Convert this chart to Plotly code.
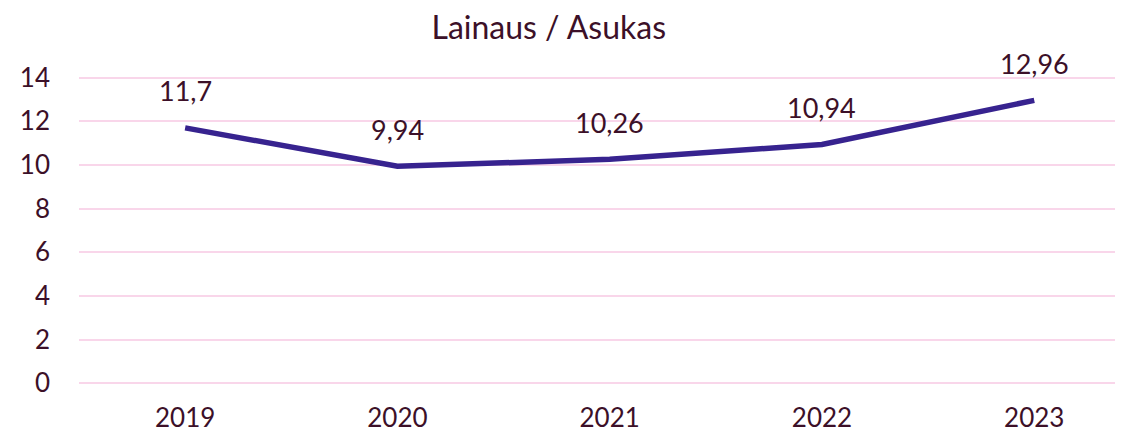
import plotly.graph_objects as go

years = ["2019", "2020", "2021", "2022", "2023"]
values = [11.7, 9.94, 10.26, 10.94, 12.96]
y_ticks = [0, 2, 4, 6, 8, 10, 12, 14]

text_color = "#3C1028"
line_color = "#37238F"
grid_color = "#F9D6EA"
font_family = "Lato, 'Open Sans', sans-serif"

labels = [f"{v:g}".replace(".", ",") for v in values]

fig = go.Figure()
fig.add_trace(go.Scatter(
    x=years, y=values, mode="lines",
    line=dict(color=line_color, width=5.5),
    cliponaxis=False, showlegend=False, hoverinfo="skip",
))

# on a category axis a numeric x is the category index
for i, (v, lab) in enumerate(zip(values, labels)):
    fig.add_annotation(x=i, y=v, xref="x", yref="y", text=lab, showarrow=False,
                       yanchor="middle", yshift=37,
                       font=dict(size=27, color=text_color, family=font_family))

# body has an 8px default margin, so the figure is drawn 8px in from the window edge
fig.update_layout(
    width=1115, height=429,
    margin=dict(l=71, r=0, t=67, b=51),
    paper_bgcolor="white", plot_bgcolor="white",
    title=dict(text="Lainaus / Asukas", x=0.485, xanchor="center", y=0.953, yanchor="middle",
               font=dict(size=32, color=text_color, family=font_family)),
    font=dict(family=font_family, color=text_color, size=26),
    xaxis=dict(type="category", range=[-0.5, 4.418], showgrid=False, zeroline=False,
               showline=False, ticks="", ticklabelstandoff=14,
               tickfont=dict(size=26, color=text_color)),
    yaxis=dict(range=[-0.12, 14.12], tickvals=y_ticks, showgrid=True, gridcolor=grid_color,
               gridwidth=2, zeroline=False, showline=False, ticks="",
               ticklabelstandoff=28, tickfont=dict(size=26, color=text_color)),
)

fig.write_html("out.html", config={"displayModeBar": False})
